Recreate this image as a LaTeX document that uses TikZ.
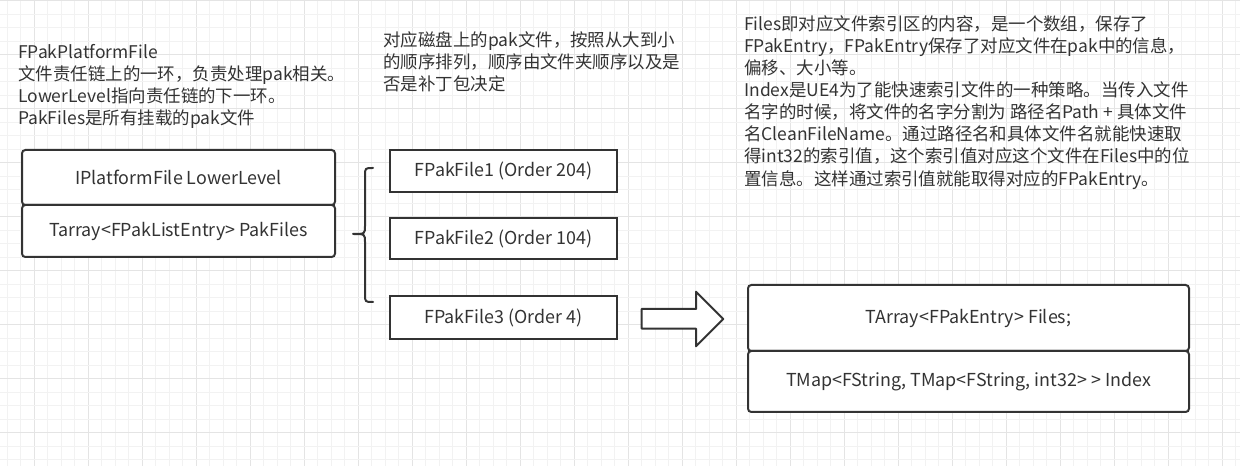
\documentclass[tikz,border=0pt]{standalone}
\usepackage{fontspec}
\setmainfont{Noto Sans CJK SC}
\definecolor{ink}{HTML}{333333}
\definecolor{gridminor}{HTML}{F2F2F2}
\definecolor{gridmajor}{HTML}{E4E4E4}
\begin{document}
\begin{tikzpicture}[x=0.75pt,y=-0.75pt,
  every node/.style={text=ink},
  box/.style 2 args={draw=ink, line width=1.5pt, fill=white, inner sep=0pt,
    minimum width={#1*0.75pt}, minimum height={#2*0.75pt},
    font=\fontsize{13.4}{16.5}\selectfont},
  rbox/.style 2 args={box={#1}{#2}, rounded corners=2.5pt},
  note/.style={anchor=north west, inner sep=0pt, align=left,
    font=\fontsize{13.1}{16.6}\selectfont},
  edge/.style={draw=ink, line width=1.5pt, line cap=round, line join=round}]
\useasboundingbox (0,0) rectangle (1240,466);
\fill[white] (0,0) rectangle (1240,466);
% grid
\foreach \i in {0,...,91} {
  \pgfmathtruncatemacro{\m}{mod(\i,4)}
  \ifnum\m=2 \def\gc{gridmajor}\else\def\gc{gridminor}\fi
  \draw[\gc, line width=0.75pt] ({7+13.5*\i},0) -- ({7+13.5*\i},466);
}
\foreach \j in {0,...,34} {
  \pgfmathtruncatemacro{\m}{mod(\j,4)}
  \ifnum\m=0 \def\gc{gridmajor}\else\def\gc{gridminor}\fi
  \draw[\gc, line width=0.75pt] (0,{1+13.5*\j}) -- (1240,{1+13.5*\j});
}
% notes
\node[note] (n1) at (18,44) {FPakPlatformFile\\文件责任链上的一环，负责处理pak相关。\\LowerLevel指向责任链的下一环。\\PakFiles是所有挂载的pak文件};
\node[note] (n2) at (383,31) {对应磁盘上的pak文件，按照从大到小\\的顺序排列，顺序由文件夹顺序以及是\\否是补丁包决定};
\node[note] (n3) at (744,15) {Files即对应文件索引区的内容，是一个数组，保存了\\FPakEntry，FPakEntry保存了对应文件在pak中的信息，\\偏移、大小等。\\Index是UE4为了能快速索引文件的一种策略。当传入文件\\名字的时候，将文件的名字分割为 路径名Path + 具体文件\\名CleanFileName。通过路径名和具体文件名就能快速取\\得int32的索引值，这个索引值对应这个文件在Files中的位\\置信息。这样通过索引值就能取得对应的FPakEntry。};
% left container
\node[rbox={313}{55}] (lower) at (178.5,177.5) {IPlatformFile LowerLevel};
\node[rbox={313}{52}] (pakfiles) at (178.5,231) {Tarray<FPakListEntry> PakFiles};
% pak files
\node[box={227}{42}] (f1) at (503.5,171) {FPakFile1 (Order 204)};
\node[box={227}{41}] (f2) at (503.5,238.5) {FPakFile2 (Order 104)};
\node[box={227}{43}] (f3) at (503.5,317.5) {FPakFile3 (Order 4)};
% right container
\node[rbox={441}{66}] (files) at (968.5,318) {TArray<FPakEntry> Files;};
\node[rbox={441}{61}] (index) at (968.5,381.5) {TMap<FString, TMap<FString, int32> > Index};
% brace
\coordinate (bt) at (373,168);
\coordinate (bm) at (353,234);
\coordinate (bb) at (373,302);
\draw[edge] (bt) .. controls (365,168) .. (365,176) -- (365,226)
  .. controls (365,234) .. (bm) .. controls (365,234) .. (365,242)
  -- (365,294) .. controls (365,302) .. (bb);
% block arrow
\draw[edge, fill=white] (641.7,309) -- (696,309) -- (696,291.7) -- (723.3,319)
  -- (696,346.3) -- (696,328.7) -- (641.7,328.7) -- cycle;
\end{tikzpicture}
\end{document}
